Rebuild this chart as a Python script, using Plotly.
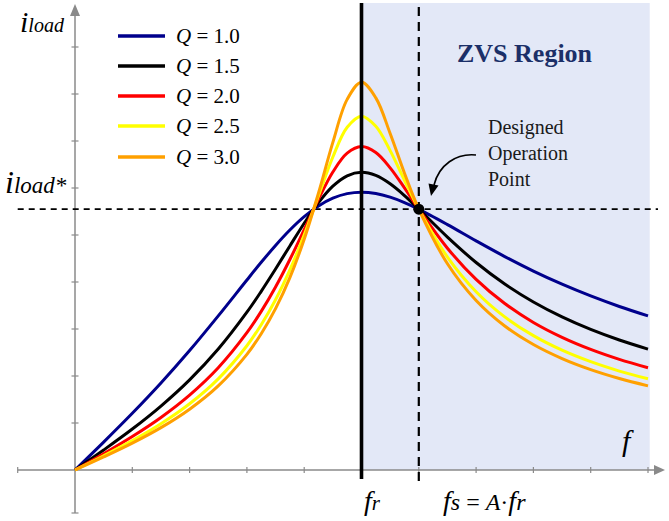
import plotly.graph_objects as go

# ---------------- data ----------------
f_norm = [0, 0.5, 1, 1.5, 2, 2.5, 3, 3.25, 3.5, 3.75, 4, 4.25, 4.5, 4.75, 5,
          5.25, 5.5, 5.75, 6, 6.5, 7, 7.5, 8, 8.5, 9, 9.5, 10]
i_q10 = [0, 0.594, 1.206, 1.851, 2.541, 3.279, 4.043, 4.419, 4.778, 5.106, 5.390,
         5.619, 5.784, 5.880, 5.911, 5.883, 5.806, 5.691, 5.55, 5.221, 4.875,
         4.541, 4.232, 3.953, 3.703, 3.479, 3.279]
i_q15 = [0, 0.426, 0.871, 1.360, 1.917, 2.573, 3.357, 3.802, 4.276, 4.767, 5.250,
         5.689, 6.039, 6.260, 6.334, 6.267, 6.089, 5.839, 5.55, 4.955, 4.415,
         3.957, 3.575, 3.257, 2.991, 2.766, 2.573]
i_q20 = [0, 0.347, 0.713, 1.119, 1.594, 2.176, 2.921, 3.375, 3.894, 4.479, 5.115,
         5.762, 6.340, 6.741, 6.882, 6.755, 6.429, 6.002, 5.55, 4.719, 4.055,
         3.541, 3.140, 2.823, 2.566, 2.354, 2.176]
i_q25 = [0, 0.304, 0.625, 0.984, 1.409, 1.940, 2.644, 3.091, 3.623, 4.258, 5.002,
         5.833, 6.659, 7.293, 7.529, 7.314, 6.795, 6.165, 5.55, 4.531, 3.794,
         3.258, 2.858, 2.549, 2.304, 2.105, 1.940]
i_q30 = [0, 0.278, 0.572, 0.901, 1.294, 1.790, 2.461, 2.898, 3.433, 4.094, 4.911,
         5.895, 6.971, 7.886, 8.251, 7.918, 7.160, 6.314, 5.55, 4.388, 3.607,
         3.064, 2.669, 2.370, 2.135, 1.946, 1.790]

series_names = ["1.0", "1.5", "2.0", "2.5", "3.0"]
series_values = [i_q10, i_q15, i_q20, i_q25, i_q30]
series_colors = ["#00008C", "#000000", "#FF0000", "#FFFF00", "#FFA000"]

f_r = 5            # resonant frequency position
f_s = 6            # designed switching frequency
i_star = 5.55      # designed load current
zvs_end = 10.03
x_ticks = [-1, 1, 2, 3, 4, 5, 6, 7, 8, 9, 10]
y_ticks = [1, 2, 3, 4, 5, 6, 7, 8, 9]

# ---------------- geometry helpers ----------------
W, H = 669, 521
X0, XS = 75, 57.3      # pixel of x=0, pixels per unit
Y0, YS = 470, 47.0     # pixel of y=0, pixels per unit
x_range = [-X0 / XS, (W - X0) / XS]
y_range = [(Y0 - H) / YS, Y0 / YS]

def dx(p):
    return (p - X0) / XS

def dy(p):
    return (Y0 - p) / YS

def px(p):
    return p / W

def py(p):
    return 1 - p / H

SERIF = "Liberation Serif"
AX_COL = "#8a8a8a"

fig = go.Figure()

for name, vals, col in zip(series_names, series_values, series_colors):
    fig.add_trace(go.Scatter(
        x=f_norm, y=vals, mode="lines", name="Q = " + name,
        line=dict(color=col, width=3, shape="spline", smoothing=1.0),
        showlegend=False, hoverinfo="skip"))

fig.add_trace(go.Scatter(
    x=[f_s], y=[i_star], mode="markers",
    marker=dict(color="black", size=11), showlegend=False, hoverinfo="skip"))

shapes = []
# ZVS region
shapes.append(dict(type="rect", xref="x", yref="y", x0=f_r, x1=zvs_end, y0=0,
                   y1=dy(3), fillcolor="#E3E8F7", line=dict(width=0), layer="below"))
# axes
shapes.append(dict(type="line", xref="x", yref="y", x0=-1, x1=dx(657), y0=0, y1=0,
                   line=dict(color=AX_COL, width=1.5), layer="below"))
shapes.append(dict(type="line", xref="x", yref="y", x0=0, x1=0, y0=dy(513), y1=dy(13),
                   line=dict(color=AX_COL, width=1.5), layer="below"))
# arrow heads
shapes.append(dict(type="path", xref="x", yref="y",
                   path=f"M {dx(665)} 0 L {dx(654)} {dy(465)} L {dx(654)} {dy(475)} Z",
                   fillcolor=AX_COL, line=dict(width=0), layer="below"))
shapes.append(dict(type="path", xref="x", yref="y",
                   path=f"M 0 {dy(4)} L {dx(70)} {dy(16)} L {dx(80)} {dy(16)} Z",
                   fillcolor=AX_COL, line=dict(width=0), layer="below"))
# ticks
for t in x_ticks:
    shapes.append(dict(type="line", xref="x", yref="y", ysizemode="pixel", yanchor=0,
                       x0=t, x1=t, y0=-3, y1=3, line=dict(color=AX_COL, width=1.2),
                       layer="below"))
for t in y_ticks + [dy(513)]:
    shapes.append(dict(type="line", xref="x", yref="y", xsizemode="pixel", xanchor=0,
                       x0=-3.5, x1=3.5, y0=t, y1=t, line=dict(color=AX_COL, width=1.2),
                       layer="below"))
# dashed guides
shapes.append(dict(type="line", xref="x", yref="y", x0=-1, x1=dx(658), y0=i_star,
                   y1=i_star, line=dict(color="black", width=1.6, dash="6px,5px"),
                   layer="below"))
shapes.append(dict(type="line", xref="x", yref="y", x0=f_s, x1=f_s, y0=dy(481),
                   y1=dy(5), line=dict(color="black", width=2.2, dash="9px,6px"),
                   layer="below"))
# resonant frequency line (on top of curves)
shapes.append(dict(type="line", xref="x", yref="y", x0=f_r, x1=f_r, y0=dy(479),
                   y1=dy(3), line=dict(color="black", width=3.6), layer="above"))
# curved arrow to the operation point
shapes.append(dict(type="path", xref="x", yref="y",
                   path=(f"M {dx(476)} {dy(155)} C {dx(456)} {dy(153)} {dx(439)} {dy(165)} "
                         f"{dx(434)} {dy(185)}"),
                   line=dict(color="black", width=1.6)))
shapes.append(dict(type="path", xref="x", yref="y",
                   path=(f"M {dx(431)} {dy(196)} L {dx(438.5)} {dy(185.5)} "
                         f"L {dx(428.5)} {dy(183.5)} Z"),
                   fillcolor="black", line=dict(width=0)))
# legend samples
leg_y = [36, 66, 96, 126, 157]
for ly, col in zip(leg_y, series_colors):
    shapes.append(dict(type="line", xref="paper", yref="paper", x0=px(118), x1=px(165),
                       y0=py(ly), y1=py(ly), line=dict(color=col, width=3.5)))

ann = []
for ly, name in zip(leg_y, series_names):
    ann.append(dict(x=px(174), y=py(ly), xref="paper", yref="paper", xanchor="left",
                    yanchor="middle", showarrow=False,
                    text=f"<i>Q</i> = {name}", font=dict(family=SERIF, size=21, color="black")))

ann.append(dict(x=px(525), y=py(54), xref="paper", yref="paper", xanchor="center",
                yanchor="middle", showarrow=False, text="<b>ZVS Region</b>",
                font=dict(family=SERIF, size=26, color="#1B2F68")))
ann.append(dict(x=px(486), y=py(153), xref="paper", yref="paper", xanchor="left",
                yanchor="middle", showarrow=False, align="left",
                text="Designed<br>Operation<br>Point",
                font=dict(family=SERIF, size=20, color="#1a1a1a")))
ann.append(dict(x=px(18), y=py(21), xref="paper", yref="paper", xanchor="left",
                yanchor="middle", showarrow=False,
                text="<i><span style='font-size:30px'>i</span>load</i>",
                font=dict(family=SERIF, size=20, color="black")))
ann.append(dict(x=px(3), y=py(182), xref="paper", yref="paper", xanchor="left",
                yanchor="middle", showarrow=False,
                text="<i><span style='font-size:32px'>i</span>load*</i>",
                font=dict(family=SERIF, size=23, color="black")))
ann.append(dict(x=px(362), y=py(500), xref="paper", yref="paper", xanchor="left",
                yanchor="middle", showarrow=False,
                text="<i><span style='font-size:28px'>f</span>r</i>",
                font=dict(family=SERIF, size=21, color="black")))
ann.append(dict(x=px(441), y=py(500), xref="paper", yref="paper", xanchor="left",
                yanchor="middle", showarrow=False,
                text="<i><span style='font-size:28px'>f</span>s</i> = <i>A</i>·<i><span style='font-size:28px'>f</span>r</i>",
                font=dict(family=SERIF, size=24, color="black")))
ann.append(dict(x=px(628), y=py(440), xref="paper", yref="paper", xanchor="center",
                yanchor="middle", showarrow=False, text="<i>f</i>",
                font=dict(family=SERIF, size=30, color="black")))

fig.update_layout(
    width=W, height=H, margin=dict(l=0, r=0, t=0, b=0),
    paper_bgcolor="white", plot_bgcolor="white",
    xaxis=dict(range=x_range, visible=False, fixedrange=True),
    yaxis=dict(range=y_range, visible=False, fixedrange=True),
    shapes=shapes, annotations=ann, showlegend=False)

fig.write_html("out.html", config={"displayModeBar": False},
               post_script="document.body.style.margin='0px';document.body.style.overflow='hidden';")
